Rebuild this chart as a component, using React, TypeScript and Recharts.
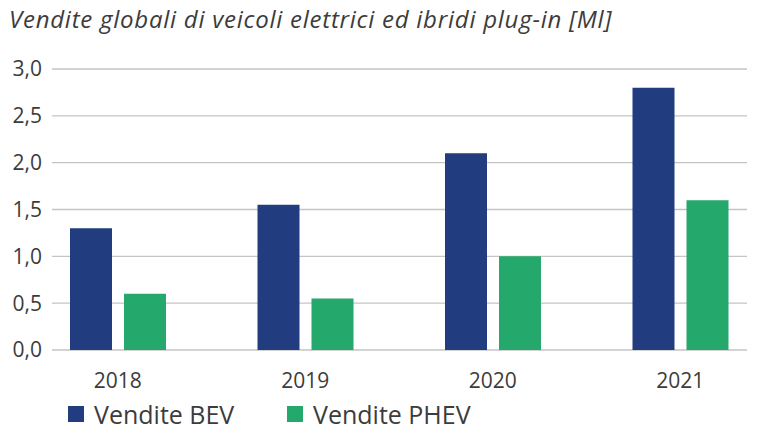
import React from 'react';
import { BarChart, Bar, XAxis, YAxis, CartesianGrid, Legend } from 'recharts';

const years = ['2018', '2019', '2020', '2021'];
const bevSales = [1.3, 1.55, 2.1, 2.8];
const phevSales = [0.6, 0.55, 1.0, 1.6];
const yTicks = [0, 0.5, 1, 1.5, 2, 2.5, 3];
const seriesNames = ['Vendite BEV', 'Vendite PHEV'];
const seriesColors = ['#213d7f', '#24a86b'];

const data = years.map((y, i) => ({ year: y, bev: bevSales[i], phev: phevSales[i] }));

const FONT = '"Open Sans", sans-serif';
const TEXT = '#3c3c3c';

const LegendContent = () => {
  const lefts = [68, 287];
  return (
    <div style={{ position: 'relative', width: 760, height: 32 }}>
      {seriesNames.map((n, i) => (
        <div key={n} style={{ position: 'absolute', left: lefts[i], top: 0, height: 32, display: 'flex', alignItems: 'center' }}>
          <span style={{ display: 'inline-block', width: 16, height: 16, background: seriesColors[i], marginRight: 10 }} />
          <span style={{ fontFamily: FONT, fontSize: 25, color: TEXT, lineHeight: '32px' }}>{n}</span>
        </div>
      ))}
    </div>
  );
};

export default function App() {
  return (
    <div style={{ position: 'absolute', left: 0, top: 0, width: 760, height: 441, background: '#fff' }}>
      <div style={{ position: 'absolute', left: 9, top: 2, fontFamily: FONT, fontStyle: 'italic', fontSize: 24, letterSpacing: 0.75, color: TEXT, whiteSpace: 'nowrap' }}>
        Vendite globali di veicoli elettrici ed ibridi plug-in [Ml]
      </div>
      <BarChart
        width={760}
        height={441}
        data={data}
        margin={{ top: 69, right: 13, left: 0, bottom: 0 }}
        barGap={12}
        barSize={42}
      >
        <CartesianGrid vertical={false} stroke="#c4c4c4" strokeWidth={1.3} />
        <XAxis
          dataKey="year"
          axisLine={false}
          tickLine={false}
          height={59}
          tickMargin={17}
          padding={{ left: -28, right: -27 }}
          tick={{ fontFamily: FONT, fontSize: 21, fill: TEXT }}
          interval={0}
        />
        <YAxis
          width={52}
          domain={[0, 3]}
          ticks={yTicks}
          axisLine={false}
          tickLine={false}
          tickMargin={4}
          tickFormatter={(v: number) => v.toFixed(1).replace('.', ',')}
          tick={{ fontFamily: FONT, fontSize: 21, fill: TEXT }}
        />
        <Legend verticalAlign="bottom" content={<LegendContent />} wrapperStyle={{ top: 398, left: 0 }} />
        <Bar dataKey="bev" name={seriesNames[0]} fill={seriesColors[0]} isAnimationActive={false} />
        <Bar dataKey="phev" name={seriesNames[1]} fill={seriesColors[1]} isAnimationActive={false} />
      </BarChart>
    </div>
  );
}
